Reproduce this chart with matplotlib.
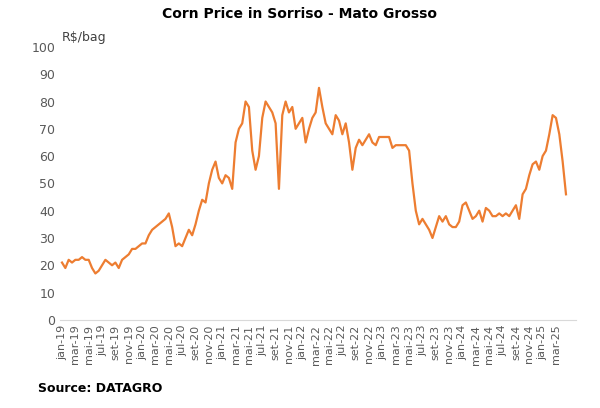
import numpy as np
import matplotlib
matplotlib.use("Agg")
import matplotlib.pyplot as plt

# semi-monthly readings, jan-19 .. apr-25 (R$/bag)
prices = [
    21, 19, 22, 21, 22, 22, 23, 22, 22, 19, 17, 18, 20, 22, 21, 20, 21, 19, 22, 23, 24, 26, 26, 27,
    28, 28, 31, 33, 34, 35, 36, 37, 39, 34, 27, 28, 27, 30, 33, 31, 35, 40, 44, 43, 50, 55, 58, 52,
    50, 53, 52, 48, 65, 70, 72, 80, 78, 62, 55, 60, 74, 80, 78, 76, 72, 48, 75, 80, 76, 78, 70, 72,
    74, 65, 70, 74, 76, 85, 78, 72, 70, 68, 75, 73, 68, 72, 65, 55, 63, 66, 64, 66, 68, 65, 64, 67,
    67, 67, 67, 63, 64, 64, 64, 64, 62, 50, 40, 35, 37, 35, 33, 30, 34, 38, 36, 38, 35, 34, 34, 36,
    42, 43, 40, 37, 38, 40, 36, 41, 40, 38, 38, 39, 38, 39, 38, 40, 42, 37, 46, 48, 53, 57, 58, 55,
    60, 62, 68, 75, 74, 68, 58, 46,
]
months = ["jan", "mar", "mai", "jul", "set", "nov"]
tick_labels = [f"{m}-{y}" for y in range(19, 26) for m in months][:38]

months_x = np.arange(len(prices)) / 2.0
color = "#ED7D31"

fig = plt.figure(figsize=(6, 4.08), dpi=100)
ax = fig.add_axes([0.1, 0.216, 0.86, 0.669])
ax.plot(months_x, prices, color=color, lw=1.6)
ax.set_ylim(0, 100)
ax.set_xlim(-0.3, 77)
ax.set_yticks(range(0, 101, 10))
ax.set_xticks(np.arange(len(tick_labels)) * 2)
ax.set_xticklabels(tick_labels, rotation=90, fontsize=8, color="#595959")
ax.tick_params(axis="y", labelsize=9, colors="#595959", length=0)
ax.tick_params(axis="x", length=0)
for s in ["top", "right", "left"]:
    ax.spines[s].set_visible(False)
ax.spines["bottom"].set_color("#D9D9D9")

fig.text(0.5, 0.955, "Corn Price in Sorriso - Mato Grosso", ha="center", fontsize=10, fontweight="bold")
fig.text(0.103, 0.9, "R$/bag", fontsize=9, color="#404040")
fig.text(0.063, 0.04, "Source: DATAGRO", fontsize=9, fontweight="bold")

fig.savefig("out.png")
